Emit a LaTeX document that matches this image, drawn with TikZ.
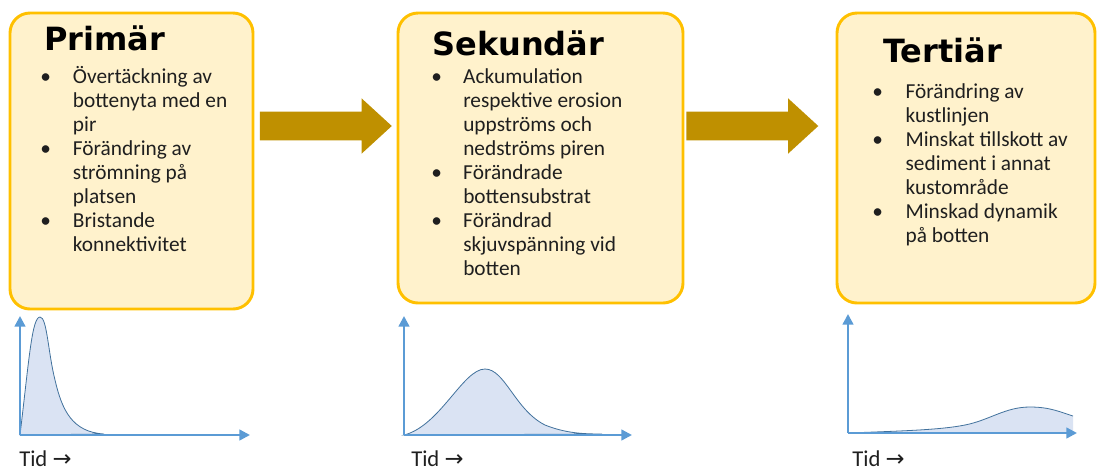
\documentclass[tikz,border=0pt]{standalone}
\usepackage{fontspec}
\setmainfont{Carlito}
\newfontfamily\headfont{DejaVu Sans}
\newfontfamily\symfont{DejaVu Sans}
\usetikzlibrary{arrows.meta,positioning,calc,shapes.arrows}
\definecolor{boxfill}{HTML}{FFF2CC}
\definecolor{boxedge}{HTML}{FFC000}
\definecolor{arrowgold}{HTML}{BF9000}
\definecolor{axisblue}{HTML}{5B9BD5}
\definecolor{curveblue}{HTML}{41719C}
\definecolor{areablue}{HTML}{DAE3F3}

\begin{document}
\begin{tikzpicture}[
    x=0.75pt, y=-0.75pt,
    stage/.style={draw=boxedge, fill=boxfill, line width=2.2pt, rounded corners=15pt},
    title/.style={anchor=base west, inner sep=0, font=\headfont\bfseries\fontsize{24}{28}\selectfont},
    items/.style={anchor=north west, inner sep=0, text=black!88, font=\fontsize{16}{18}\selectfont},
    bigarrow/.style={single arrow, fill=arrowgold, inner xsep=0, inner ysep=10.5pt, minimum height=99pt, minimum width=41pt, single arrow head extend=10pt, single arrow tip angle=85},
    axis/.style={draw=axisblue, line width=1.8pt, -{Triangle[length=8pt, width=8pt]}},
    curve/.style={draw=curveblue, line width=0.6pt, fill=areablue},
    tid/.style={anchor=base west, inner sep=0, text=black!88, font=\fontsize{17}{20}\selectfont}
]
    \useasboundingbox (0,0) rectangle (1097,472);

    % phases
    \node[stage, minimum width=182.25pt, minimum height=222pt] (b1) at (131.5,161) {};
    \node[stage, minimum width=213.75pt, minimum height=217.5pt] (b2) at (540.5,158) {};
    \node[stage, minimum width=193.5pt, minimum height=217.5pt] (b3) at (966,158) {};

    \node[title] (t1) at (44,50) {Primär};
    \node[title] (t2) at (432,55) {Sekundär};
    \node[title] (t3) at (883,62) {Tertiär};

    \node[items] (l1) at (40,66) {\begin{tabular}{@{}p{24.5pt}@{}l@{}}
        \textbullet & Övertäckning av\\
        & bottenyta med en\\
        & pir\\
        \textbullet & Förändring av\\
        & strömning på\\
        & platsen\\
        \textbullet & Bristande\\
        & konnektivitet
    \end{tabular}};
    \node[items] (l2) at (431,66) {\begin{tabular}{@{}p{24pt}@{}l@{}}
        \textbullet & Ackumulation\\
        & respektive erosion\\
        & uppströms och\\
        & nedströms piren\\
        \textbullet & Förändrade\\
        & bottensubstrat\\
        \textbullet & Förändrad\\
        & skjuvspänning vid\\
        & botten
    \end{tabular}};
    \node[items] (l3) at (872,81) {\begin{tabular}{@{}p{25pt}@{}l@{}}
        \textbullet & Förändring av\\
        & kustlinjen\\
        \textbullet & Minskat tillskott av\\
        & sediment i annat\\
        & kustområde\\
        \textbullet & Minskad dynamik\\
        & på botten
    \end{tabular}};

    \node[bigarrow] (a1) at (318,126) {};
    \node[bigarrow] (a2) at (744.5,126) {};

    % time curves
    \coordinate (o1) at (20,435);
    \coordinate (o2) at (404,435);
    \coordinate (o3) at (848,433);

    \path[curve] (o1) .. controls (29,360) and (32,317) .. (40,317)
        .. controls (47,317) and (48,352) .. (55,380)
        .. controls (62,410) and (72,432) .. (104,434) -- cycle;
    \path[curve] (o2) .. controls (440,426) and (463,369) .. (485,369)
        .. controls (505,369) and (515,410) .. (545,425)
        .. controls (565,433) and (582,434) .. (602,434) -- cycle;
    \fill[areablue] (o3) .. controls (900,431) and (940,430) .. (965,425)
        .. controls (990,420) and (1005,407) .. (1030,407)
        .. controls (1050,407) and (1060,412) .. (1073,416) -- (1073,433) -- cycle;
    \draw[curveblue, line width=0.6pt] (o3) .. controls (900,431) and (940,430) .. (965,425)
        .. controls (990,420) and (1005,407) .. (1030,407)
        .. controls (1050,407) and (1060,412) .. (1073,416);

    \draw[axis] (o1) -- (20,316);
    \draw[axis] (o1) -- (250,435);
    \draw[axis] (o2) -- (404,316);
    \draw[axis] (o2) -- (632,435);
    \draw[axis] (o3) -- (848,314);
    \draw[axis] (o3) -- (1077,433);

    \node[tid] (x1) at (19,466) {Tid {\symfont →}};
    \node[tid] (x2) at (411,466) {Tid {\symfont →}};
    \node[tid] (x3) at (852,466) {Tid {\symfont →}};
\end{tikzpicture}
\end{document}
